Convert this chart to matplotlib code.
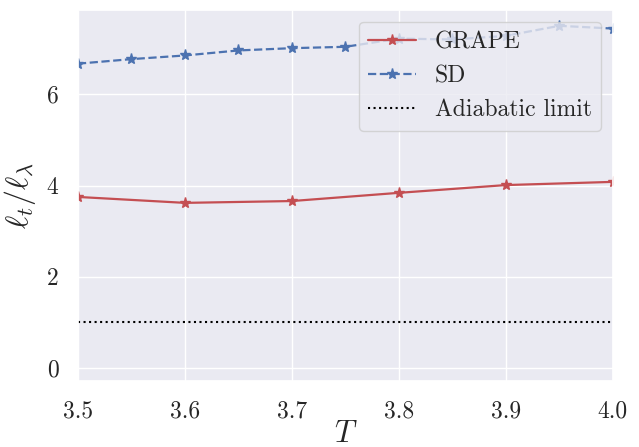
import numpy as np
import matplotlib
matplotlib.use("Agg")
import matplotlib.pyplot as plt
import seaborn as sns

# ── data ─────────────────────────────────────────────
T_grape = [3.5, 3.6, 3.7, 3.8, 3.9, 4.0]
ratio_grape = [3.75, 3.62, 3.66, 3.84, 4.01, 4.08]

T_sd = [3.5, 3.55, 3.6, 3.65, 3.7, 3.75, 3.8, 3.85, 3.9, 3.95, 4.0]
ratio_sd = [6.67, 6.77, 6.85, 6.96, 7.01, 7.04, 7.22, 7.20, 7.28, 7.50, 7.44]

T_range = [3.5, 4.0]
adiabatic_limit = [1.0, 1.0]

x_ticks = [3.5, 3.6, 3.7, 3.8, 3.9, 4.0]
y_ticks = [0, 2, 4, 6]

# ── style ────────────────────────────────────────────
sns.set_theme(style="darkgrid")
plt.rcParams["font.family"] = "serif"
plt.rcParams["font.serif"] = ["cmr10"]
plt.rcParams["mathtext.fontset"] = "cm"
plt.rcParams["axes.formatter.use_mathtext"] = True
plt.rcParams["axes.unicode_minus"] = False

red, blue = sns.color_palette("deep")[3], sns.color_palette("deep")[0]

fig = plt.figure(figsize=(6.39, 4.47), dpi=100)
ax = fig.add_axes([0.122, 0.148, 0.837, 0.830])

ax.plot(T_grape, ratio_grape, color=red, linestyle="-", marker="*",
        markersize=8, linewidth=1.6, label="GRAPE")
ax.plot(T_sd, ratio_sd, color=blue, linestyle="--", marker="*",
        markersize=8, linewidth=1.6, label="SD")
ax.plot(T_range, adiabatic_limit, color="black", linestyle=":",
        linewidth=1.5, label="Adiabatic limit")

ax.set_xlim(3.5, 4.0)
ax.set_ylim(-0.28, 7.85)
ax.set_xticks(x_ticks)
ax.set_xticklabels([f"{t:.1f}" for t in x_ticks])
ax.set_yticks(y_ticks)
ax.set_yticklabels([str(v) for v in y_ticks])
ax.tick_params(labelsize=17, pad=8)

ax.set_xlabel(r"$T$", fontsize=22, labelpad=-1)
ax.set_ylabel(r"$\ell_t/\ell_\lambda$", fontsize=23, labelpad=6)

ax.legend(loc="upper right", fontsize=17, framealpha=0.8)

fig.savefig("out.png", dpi=100)
